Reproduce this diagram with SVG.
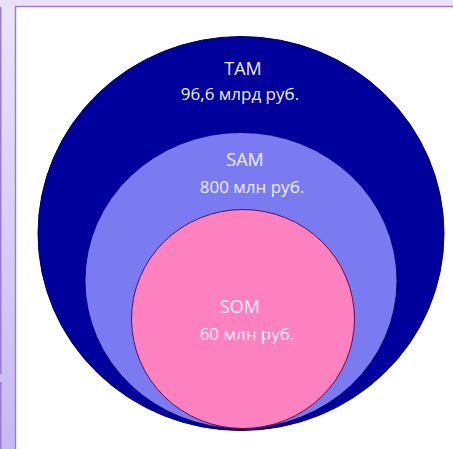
<svg xmlns="http://www.w3.org/2000/svg" width="453" height="449" viewBox="0 0 453 449">
  <defs>
    <linearGradient id="strip" x1="0" y1="0" x2="0" y2="1">
      <stop offset="0" stop-color="#ede3f8"/>
      <stop offset="1" stop-color="#c6b9f2"/>
    </linearGradient>
  </defs>
  <style>
    .frame { fill: none; stroke: #9c7bd2; stroke-width: 1.5; }
    .panel { fill: #ffffff; stroke: #9c7bd2; stroke-width: 1.5; }
    .label { font-family: "Open Sans", "Liberation Sans", sans-serif; fill: #eef0ff; text-anchor: middle; }
    .title { font-size: 18px; }
    .value { font-size: 17px; }
  </style>

  <!-- slide background -->
  <rect x="0" y="0" width="453" height="449" fill="url(#strip)"/>
  <rect x="0" y="0" width="453" height="7" fill="#ece0f8"/>
  <!-- white content panel -->
  <rect class="panel" x="15.5" y="6.5" width="440" height="445"/>
  <!-- edges of neighbouring panels -->
  <path class="frame" d="M0.75 7 V373 H2 M0.75 449 V383 H2"/>

  <!-- TAM -->
  <g id="tam">
    <ellipse cx="241" cy="233.5" rx="203" ry="197" fill="#00009c" stroke="#00006a" stroke-width="1"/>
    <text class="label title" x="243" y="75">TAM</text>
    <text class="label value" x="240" y="100">96,6 млрд руб.</text>
  </g>

  <!-- SAM -->
  <g id="sam">
    <ellipse cx="241" cy="280.5" rx="156" ry="148" fill="#7b7bf1" stroke="#00006a" stroke-width="0.8"/>
    <text class="label title" x="245" y="166">SAM</text>
    <text class="label value" x="252" y="193">800 млн руб.</text>
  </g>

  <!-- SOM -->
  <g id="som">
    <ellipse cx="243" cy="319" rx="111.5" ry="109.5" fill="#fd80bf" stroke="#5a1050" stroke-width="1"/>
    <text class="label title" x="240" y="313">SOM</text>
    <text class="label value" x="247" y="340">60 млн руб.</text>
  </g>
</svg>
